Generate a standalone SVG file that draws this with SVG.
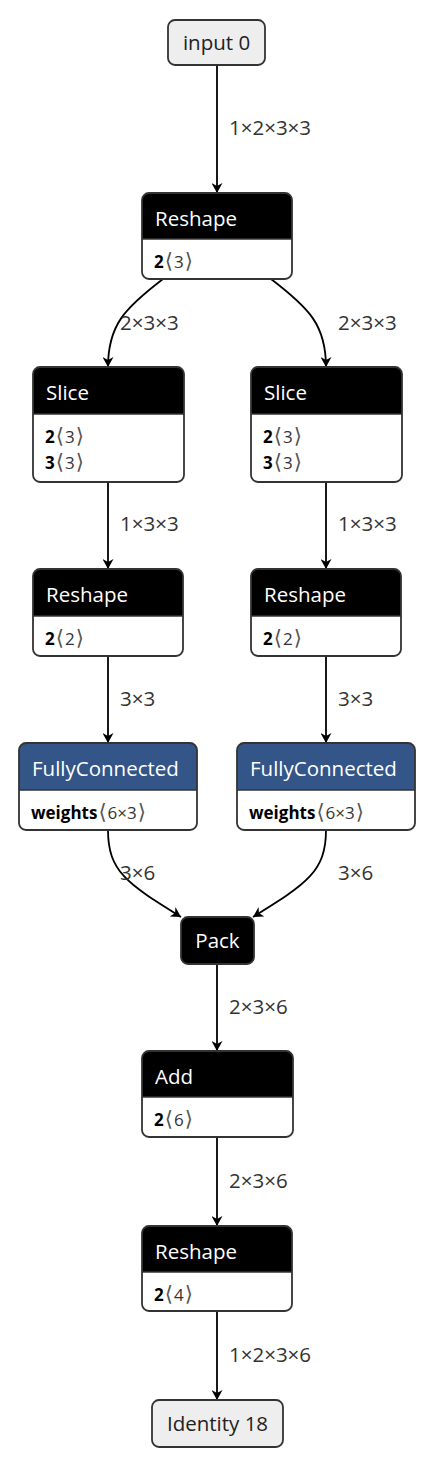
<svg xmlns="http://www.w3.org/2000/svg" width="436" height="1466" viewBox="0 0 436 1466">
<style>
.bg{fill:#ffffff}
.edge{fill:none;stroke:#000;stroke-width:1.8}
.elabel{font-family:"Open Sans","Noto Sans",sans-serif;font-size:20.5px;fill:#333}
.body{fill:#fff;stroke:none}
.outline{fill:none;stroke:#333;stroke-width:1.8}
.hdr{fill:#000}
.hdr-layer{fill:#335588}
.sep{stroke:#333;stroke-width:1.5}
.title{font-family:"Open Sans","Noto Sans",sans-serif;font-size:20.5px;fill:#fff}
.io{fill:#eeeeee;stroke:#333;stroke-width:1.8}
.iotext{font-family:"Open Sans","Noto Sans",sans-serif;font-size:20.5px;fill:#222;text-anchor:middle}
.attr{font-family:"Open Sans","Noto Sans",sans-serif;font-size:17px;fill:#000}
.attr .n{font-weight:bold}
.attr .v{fill:#333}
.attr .b{fill:#555;font-family:"DejaVu Sans",sans-serif;font-size:21px}
</style>
<defs>
<marker id="arrow" markerUnits="userSpaceOnUse" markerWidth="11" markerHeight="11" refX="10" refY="5.5" orient="auto" viewBox="0 0 11 11">
<path d="M0,0 L10,5.5 L0,11 L3,5.5 z" fill="#000"/>
</marker>
</defs>
<rect class="bg" x="0" y="0" width="436" height="1466"/>

<g id="connectors">
<path class="edge" d="M217,65 V193" marker-end="url(#arrow)"/>
<path class="edge" d="M163,279 C125,308 108,325 108,367" marker-end="url(#arrow)"/>
<path class="edge" d="M271,279 C309,308 326,325 326,367" marker-end="url(#arrow)"/>
<path class="edge" d="M108,482 V569" marker-end="url(#arrow)"/>
<path class="edge" d="M326,482 V569" marker-end="url(#arrow)"/>
<path class="edge" d="M108,656 V743" marker-end="url(#arrow)"/>
<path class="edge" d="M326,656 V743" marker-end="url(#arrow)"/>
<path class="edge" d="M108,830 C108,872 128,884 181,917" marker-end="url(#arrow)"/>
<path class="edge" d="M326,830 C326,872 306,884 253,917" marker-end="url(#arrow)"/>
<path class="edge" d="M217,964 V1051" marker-end="url(#arrow)"/>
<path class="edge" d="M217,1137 V1226" marker-end="url(#arrow)"/>
<path class="edge" d="M217,1311 V1400" marker-end="url(#arrow)"/>
<text class="elabel" x="229" y="135">1×2×3×3</text>
<text class="elabel" x="120" y="330">2×3×3</text>
<text class="elabel" x="338" y="330">2×3×3</text>
<text class="elabel" x="120" y="531">1×3×3</text>
<text class="elabel" x="338" y="531">1×3×3</text>
<text class="elabel" x="120" y="706">3×3</text>
<text class="elabel" x="338" y="706">3×3</text>
<text class="elabel" x="120" y="880">3×6</text>
<text class="elabel" x="338" y="880">3×6</text>
<text class="elabel" x="229" y="1014">2×3×6</text>
<text class="elabel" x="229" y="1188">2×3×6</text>
<text class="elabel" x="229" y="1362">1×2×3×6</text>
</g>

<g id="input0">
<rect class="io" x="168" y="20" width="97" height="45" rx="7"/>
<text class="iotext" x="216.5" y="49.5">input 0</text>
</g>

<g id="reshape1">
<rect class="body" x="142" y="193" width="150" height="86" rx="7"/>
<path class="hdr" d="M142,239 V200 a7,7 0 0 1 7,-7 H285 a7,7 0 0 1 7,7 V239 Z"/>
<line class="sep" x1="142" y1="239" x2="292" y2="239"/>
<rect class="outline" x="142" y="193" width="150" height="86" rx="7"/>
<text class="title" x="155" y="226">Reshape</text>
<text class="attr" x="154" y="268"><tspan class="n">2</tspan><tspan class="b" dx="1">⟨</tspan><tspan class="v" dx="1">3</tspan><tspan class="b" dx="1">⟩</tspan></text>
</g>

<g id="slice_left">
<rect class="body" x="33" y="367" width="151" height="115" rx="7"/>
<path class="hdr" d="M33,414 V374 a7,7 0 0 1 7,-7 H177 a7,7 0 0 1 7,7 V414 Z"/>
<line class="sep" x1="33" y1="414" x2="184" y2="414"/>
<rect class="outline" x="33" y="367" width="151" height="115" rx="7"/>
<text class="title" x="46" y="400">Slice</text>
<text class="attr" x="45" y="443"><tspan class="n">2</tspan><tspan class="b" dx="1">⟨</tspan><tspan class="v" dx="1">3</tspan><tspan class="b" dx="1">⟩</tspan></text>
<text class="attr" x="45" y="469"><tspan class="n">3</tspan><tspan class="b" dx="1">⟨</tspan><tspan class="v" dx="1">3</tspan><tspan class="b" dx="1">⟩</tspan></text>
</g>

<g id="slice_right">
<rect class="body" x="251" y="367" width="151" height="115" rx="7"/>
<path class="hdr" d="M251,414 V374 a7,7 0 0 1 7,-7 H395 a7,7 0 0 1 7,7 V414 Z"/>
<line class="sep" x1="251" y1="414" x2="402" y2="414"/>
<rect class="outline" x="251" y="367" width="151" height="115" rx="7"/>
<text class="title" x="264" y="400">Slice</text>
<text class="attr" x="263" y="443"><tspan class="n">2</tspan><tspan class="b" dx="1">⟨</tspan><tspan class="v" dx="1">3</tspan><tspan class="b" dx="1">⟩</tspan></text>
<text class="attr" x="263" y="469"><tspan class="n">3</tspan><tspan class="b" dx="1">⟨</tspan><tspan class="v" dx="1">3</tspan><tspan class="b" dx="1">⟩</tspan></text>
</g>

<g id="reshape2_left">
<rect class="body" x="33" y="569" width="150" height="87" rx="7"/>
<path class="hdr" d="M33,616 V576 a7,7 0 0 1 7,-7 H176 a7,7 0 0 1 7,7 V616 Z"/>
<line class="sep" x1="33" y1="616" x2="183" y2="616"/>
<rect class="outline" x="33" y="569" width="150" height="87" rx="7"/>
<text class="title" x="46" y="602">Reshape</text>
<text class="attr" x="45" y="645"><tspan class="n">2</tspan><tspan class="b" dx="1">⟨</tspan><tspan class="v" dx="1">2</tspan><tspan class="b" dx="1">⟩</tspan></text>
</g>

<g id="reshape2_right">
<rect class="body" x="251" y="569" width="150" height="87" rx="7"/>
<path class="hdr" d="M251,616 V576 a7,7 0 0 1 7,-7 H394 a7,7 0 0 1 7,7 V616 Z"/>
<line class="sep" x1="251" y1="616" x2="401" y2="616"/>
<rect class="outline" x="251" y="569" width="150" height="87" rx="7"/>
<text class="title" x="264" y="602">Reshape</text>
<text class="attr" x="263" y="645"><tspan class="n">2</tspan><tspan class="b" dx="1">⟨</tspan><tspan class="v" dx="1">2</tspan><tspan class="b" dx="1">⟩</tspan></text>
</g>

<g id="fc_left">
<rect class="body" x="19" y="743" width="178" height="87" rx="7"/>
<path class="hdr-layer" d="M19,790 V750 a7,7 0 0 1 7,-7 H190 a7,7 0 0 1 7,7 V790 Z"/>
<line class="sep" x1="19" y1="790" x2="197" y2="790"/>
<rect class="outline" x="19" y="743" width="178" height="87" rx="7"/>
<text class="title" x="32" y="776">FullyConnected</text>
<text class="attr" x="31" y="819"><tspan class="n">weights</tspan><tspan class="b" dx="1">⟨</tspan><tspan class="v" dx="1">6×3</tspan><tspan class="b" dx="1">⟩</tspan></text>
</g>

<g id="fc_right">
<rect class="body" x="237" y="743" width="178" height="87" rx="7"/>
<path class="hdr-layer" d="M237,790 V750 a7,7 0 0 1 7,-7 H408 a7,7 0 0 1 7,7 V790 Z"/>
<line class="sep" x1="237" y1="790" x2="415" y2="790"/>
<rect class="outline" x="237" y="743" width="178" height="87" rx="7"/>
<text class="title" x="250" y="776">FullyConnected</text>
<text class="attr" x="249" y="819"><tspan class="n">weights</tspan><tspan class="b" dx="1">⟨</tspan><tspan class="v" dx="1">6×3</tspan><tspan class="b" dx="1">⟩</tspan></text>
</g>

<g id="pack">
<rect x="181" y="917" width="73" height="47" rx="7" fill="#000" stroke="#333" stroke-width="1.8"/>
<text class="title" x="217.5" y="948" text-anchor="middle">Pack</text>
</g>

<g id="add">
<rect class="body" x="142" y="1051" width="151" height="86" rx="7"/>
<path class="hdr" d="M142,1097 V1058 a7,7 0 0 1 7,-7 H286 a7,7 0 0 1 7,7 V1097 Z"/>
<line class="sep" x1="142" y1="1097" x2="293" y2="1097"/>
<rect class="outline" x="142" y="1051" width="151" height="86" rx="7"/>
<text class="title" x="155" y="1084">Add</text>
<text class="attr" x="154" y="1126"><tspan class="n">2</tspan><tspan class="b" dx="1">⟨</tspan><tspan class="v" dx="1">6</tspan><tspan class="b" dx="1">⟩</tspan></text>
</g>

<g id="reshape3">
<rect class="body" x="142" y="1226" width="150" height="85" rx="7"/>
<path class="hdr" d="M142,1272 V1233 a7,7 0 0 1 7,-7 H285 a7,7 0 0 1 7,7 V1272 Z"/>
<line class="sep" x1="142" y1="1272" x2="292" y2="1272"/>
<rect class="outline" x="142" y="1226" width="150" height="85" rx="7"/>
<text class="title" x="155" y="1259">Reshape</text>
<text class="attr" x="154" y="1301"><tspan class="n">2</tspan><tspan class="b" dx="1">⟨</tspan><tspan class="v" dx="1">4</tspan><tspan class="b" dx="1">⟩</tspan></text>
</g>

<g id="identity18">
<rect class="io" x="152" y="1400" width="131" height="47" rx="7"/>
<text class="iotext" x="217.5" y="1431">Identity 18</text>
</g>
</svg>
